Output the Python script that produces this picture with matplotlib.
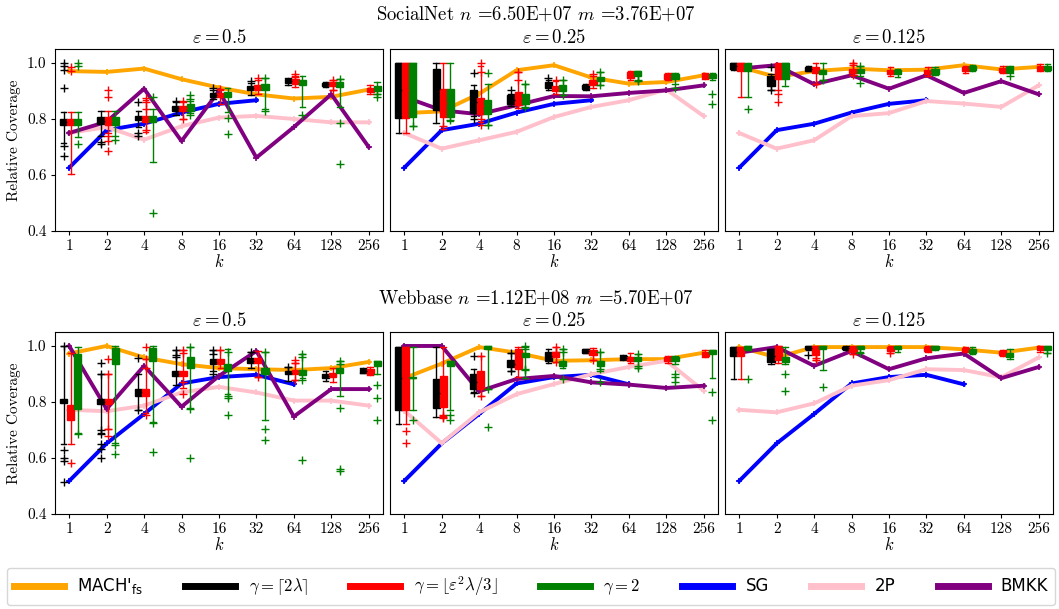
import matplotlib

matplotlib.use("Agg")
import matplotlib.pyplot as plt
from matplotlib.font_manager import FontProperties
from matplotlib.lines import Line2D

plt.rcParams["font.family"] = "serif"
plt.rcParams["font.serif"] = ["cmr10", "DejaVu Serif"]
plt.rcParams["mathtext.fontset"] = "cm"
plt.rcParams["axes.formatter.use_mathtext"] = True

K_LABELS = ["1", "2", "4", "8", "16", "32", "64", "128", "256"]
EPS_TITLES = [r"$\varepsilon = 0.5$", r"$\varepsilon = 0.25$", r"$\varepsilon = 0.125$"]
ROW_TITLES = [r"SocialNet $n$ =6.50E+07 $m$ =3.76E+07", r"Webbase $n$ =1.12E+08 $m$ =5.70E+07"]

# --- line series (one value per k) ---
SG_SOCIAL = [0.626, 0.760, 0.783, 0.823, 0.854, 0.867]
SG_WEB = [0.518, 0.652, 0.757, 0.866, 0.889, 0.897, 0.863]

MACH_SN05 = [0.971, 0.968, 0.980, 0.942, 0.912, 0.888, 0.873, 0.879, 0.905]
TWOP_SN05 = [0.750, 0.771, 0.726, 0.774, 0.805, 0.811, 0.800, 0.788, 0.788]
BMKK_SN05 = [0.750, 0.790, 0.908, 0.721, 0.900, 0.662, 0.771, 0.888, 0.700]

MACH_SN025 = [0.821, 0.827, 0.890, 0.974, 0.992, 0.948, 0.926, 0.932, 0.956]
TWOP_SN025 = [0.750, 0.694, 0.724, 0.754, 0.807, 0.843, 0.867, 0.905, 0.810]
BMKK_SN025 = [0.879, 0.831, 0.817, 0.849, 0.882, 0.881, 0.893, 0.902, 0.920]

MACH_SN0125 = [0.986, 0.950, 0.971, 0.980, 0.974, 0.976, 0.992, 0.977, 0.986]
TWOP_SN0125 = [0.750, 0.694, 0.724, 0.810, 0.821, 0.864, 0.855, 0.843, 0.920]
BMKK_SN0125 = [0.980, 0.992, 0.924, 0.956, 0.908, 0.956, 0.893, 0.935, 0.888]

MACH_WB05 = [0.973, 1.000, 0.959, 0.935, 0.921, 0.917, 0.914, 0.921, 0.943]
TWOP_WB05 = [0.772, 0.767, 0.787, 0.834, 0.854, 0.834, 0.805, 0.805, 0.787]
BMKK_WB05 = [1.000, 0.775, 0.929, 0.783, 0.893, 0.982, 0.748, 0.846, 0.846]

MACH_WB025 = [0.885, 0.937, 0.996, 0.976, 0.947, 0.949, 0.953, 0.953, 0.976]
TWOP_WB025 = [0.769, 0.653, 0.763, 0.828, 0.864, 0.899, 0.925, 0.947, 0.840]
BMKK_WB025 = [1.000, 1.000, 0.838, 0.882, 0.893, 0.870, 0.862, 0.850, 0.858]

MACH_WB0125 = [0.996, 0.959, 0.996, 0.996, 0.996, 0.996, 0.988, 0.976, 0.994]
TWOP_WB0125 = [0.772, 0.763, 0.795, 0.858, 0.878, 0.917, 0.914, 0.888, 0.959]
BMKK_WB0125 = [0.976, 0.996, 0.929, 0.982, 0.917, 0.956, 0.973, 0.885, 0.925]

# --- box stats per k: (q1, q3, whisker low, whisker high, fliers); None = no run ---
CEIL_SN05 = [
    (0.78, 0.80, 0.715, 0.825, [1.0, 0.99, 0.976, 0.91, 0.705, 0.667]),
    (0.783, 0.806, 0.74, 0.83, [0.718, 0.71]),
    (0.795, 0.812, 0.77, 0.83, [0.86, 0.75, 0.74]),
    (0.83, 0.848, 0.815, 0.86, [0.865]),
    (0.88, 0.894, 0.87, 0.905, [0.91]),
    (0.902, 0.918, 0.885, 0.93, [0.937]),
    (0.928, 0.944, 0.922, 0.948, []),
    (0.917, 0.93, 0.915, 0.932, []),
    None,
]
FLOOR_SN05 = [
    (0.78, 0.80, 0.605, 0.825, [0.985, 0.972]),
    (0.78, 0.806, 0.75, 0.83, [0.905, 0.88, 0.74, 0.72, 0.686]),
    (0.79, 0.812, 0.754, 0.867, [0.875, 0.86, 0.835, 0.76]),
    (0.83, 0.848, 0.80, 0.862, [0.865, 0.80]),
    (0.877, 0.893, 0.855, 0.905, [0.908]),
    (0.902, 0.92, 0.89, 0.94, [0.945]),
    (0.925, 0.942, 0.915, 0.955, [0.96, 0.95]),
    (0.917, 0.932, 0.905, 0.94, [0.94, 0.902]),
    (0.897, 0.912, 0.89, 0.92, []),
]
TWO_SN05 = [
    (0.78, 0.80, 0.736, 0.825, [1.0, 0.99, 0.71]),
    (0.78, 0.806, 0.74, 0.83, [0.724]),
    (0.79, 0.81, 0.646, 0.837, [0.88, 0.465]),
    (0.83, 0.852, 0.82, 0.865, [0.884, 0.873, 0.815]),
    (0.878, 0.895, 0.825, 0.91, [0.805, 0.748]),
    (0.905, 0.926, 0.837, 0.946, [0.946, 0.83]),
    (0.92, 0.94, 0.843, 0.952, [0.813]),
    (0.913, 0.932, 0.843, 0.942, [0.942, 0.786, 0.638]),
    (0.9, 0.918, 0.888, 0.932, [0.89, 0.88]),
]

CEIL_SN025 = [
    (0.805, 1.0, 0.75, 1.0, []),
    (0.833, 0.98, 0.786, 1.0, []),
    (0.821, 0.902, 0.81, 0.92, [0.965, 0.80]),
    (0.852, 0.885, 0.845, 0.89, [0.905]),
    (0.912, 0.932, 0.905, 0.94, [0.948]),
    (0.908, 0.923, 0.905, 0.925, []),
    None,
    None,
    None,
]
FLOOR_SN025 = [
    (0.805, 1.0, 0.75, 1.0, []),
    (0.807, 0.908, 0.765, 1.0, [0.775]),
    (0.817, 0.876, 0.79, 0.99, [1.0, 0.968, 0.80, 0.78]),
    (0.852, 0.896, 0.84, 0.968, [0.968, 0.94, 0.85]),
    (0.9, 0.917, 0.89, 0.935, [0.94]),
    (0.92, 0.938, 0.912, 0.955, [0.96]),
    (0.948, 0.968, 0.94, 0.973, []),
    (0.944, 0.96, 0.94, 0.965, []),
    (0.945, 0.96, 0.942, 0.965, []),
]
TWO_SN025 = [
    (0.807, 1.0, 0.774, 1.0, [0.774]),
    (0.807, 0.908, 0.793, 1.0, [0.795]),
    (0.816, 0.868, 0.78, 0.924, [0.965, 0.78]),
    (0.855, 0.89, 0.84, 0.924, [0.924, 0.842]),
    (0.9, 0.92, 0.885, 0.94, [0.94, 0.885]),
    (0.936, 0.95, 0.92, 0.968, [0.968, 0.92]),
    (0.952, 0.97, 0.935, 0.973, [0.935, 0.94]),
    (0.942, 0.96, 0.925, 0.965, [0.912]),
    (0.946, 0.96, 0.94, 0.965, [0.89, 0.852]),
]

CEIL_SN0125 = [
    (0.98, 1.0, 0.975, 1.0, []),
    (0.917, 0.952, 0.905, 0.96, [0.986, 0.905]),
    (0.971, 0.986, 0.97, 0.988, []),
    None, None, None, None, None, None,
]
FLOOR_SN0125 = [
    (0.971, 1.0, 0.88, 1.0, []),
    (0.944, 0.998, 0.905, 1.0, [0.888, 0.861]),
    (0.965, 0.986, 0.924, 1.0, [0.924]),
    (0.965, 0.98, 0.958, 1.0, [1.0, 0.992, 0.958]),
    (0.962, 0.976, 0.952, 0.985, []),
    (0.96, 0.975, 0.955, 0.985, []),
    (0.97, 0.986, 0.965, 0.99, []),
    (0.968, 0.982, 0.963, 0.988, []),
    (0.975, 0.99, 0.97, 0.995, []),
]
TWO_SN0125 = [
    (0.971, 0.998, 0.88, 1.0, [0.837]),
    (0.944, 1.0, 0.917, 1.0, []),
    (0.96, 0.976, 0.94, 1.0, [0.938]),
    (0.965, 0.98, 0.955, 0.99, [0.99, 0.93]),
    (0.96, 0.975, 0.95, 0.98, []),
    (0.962, 0.98, 0.957, 0.985, []),
    (0.975, 0.99, 0.97, 0.993, []),
    (0.968, 0.985, 0.965, 0.99, [0.955]),
    (0.975, 0.99, 0.972, 0.995, []),
]

CEIL_WB05 = [
    (0.795, 0.81, 0.65, 1.0, [1.0, 0.627, 0.60, 0.588, 0.515]),
    (0.793, 0.81, 0.69, 0.90, [0.94, 0.90, 0.70, 0.685, 0.65, 0.633, 0.60]),
    (0.822, 0.846, 0.77, 0.90, [0.958, 0.77]),
    (0.893, 0.91, 0.86, 0.985, [0.985, 0.967, 0.96]),
    (0.935, 0.953, 0.91, 0.985, [0.985, 0.973, 0.9]),
    (0.94, 0.956, 0.92, 0.98, [0.98]),
    (0.9, 0.91, 0.875, 0.925, [0.925]),
    (0.885, 0.9, 0.875, 0.91, []),
    (0.905, 0.917, 0.903, 0.92, []),
]
FLOOR_WB05 = [
    (0.734, 0.79, 0.65, 0.976, [0.582]),
    (0.793, 0.81, 0.705, 0.90, [0.955, 0.90, 0.705, 0.678]),
    (0.822, 0.846, 0.76, 0.955, [0.996, 0.955, 0.92, 0.755]),
    (0.893, 0.91, 0.85, 0.985, [0.985, 0.975, 0.87, 0.83]),
    (0.935, 0.953, 0.92, 0.985, [0.985]),
    (0.94, 0.958, 0.89, 0.983, [0.89]),
    (0.9, 0.915, 0.88, 0.94, [0.95, 0.94, 0.88]),
    (0.89, 0.905, 0.87, 0.92, []),
    (0.9, 0.917, 0.895, 0.925, []),
]
TWO_WB05 = [
    (0.775, 0.97, 0.69, 0.996, [0.684]),
    (0.935, 0.994, 0.655, 1.0, [0.648, 0.615]),
    (0.947, 0.994, 0.73, 1.0, [0.725, 0.62]),
    (0.92, 0.959, 0.78, 0.996, [0.996, 0.775, 0.6]),
    (0.91, 0.935, 0.83, 0.99, [0.98, 0.82, 0.815, 0.755]),
    (0.9, 0.92, 0.736, 0.98, [0.98, 0.704, 0.663]),
    (0.895, 0.914, 0.885, 0.97, [0.97, 0.96, 0.88, 0.594]),
    (0.905, 0.92, 0.822, 0.947, [0.947, 0.937, 0.78, 0.56, 0.552]),
    (0.929, 0.947, 0.9, 0.947, [0.86, 0.814, 0.736]),
]

CEIL_WB025 = [
    (0.772, 0.996, 0.72, 0.996, []),
    (0.779, 0.882, 0.745, 0.996, []),
    (0.846, 0.9, 0.835, 0.918, [0.964, 0.832]),
    (0.925, 0.949, 0.91, 0.976, [0.976, 0.91]),
    (0.947, 0.98, 0.94, 0.99, []),
    (0.976, 0.988, 0.975, 0.99, []),
    (0.953, 0.964, 0.95, 0.966, []),
    None,
    None,
]
FLOOR_WB025 = [
    (0.772, 0.996, 0.72, 0.996, [0.696, 0.653]),
    (0.781, 0.893, 0.75, 0.996, [0.755, 0.748, 0.742]),
    (0.846, 0.912, 0.82, 0.964, [0.964, 0.82]),
    (0.917, 0.988, 0.89, 0.996, []),
    (0.96, 0.98, 0.942, 0.996, [0.996, 0.98, 0.942]),
    (0.966, 0.984, 0.95, 0.992, [0.95]),
    (0.948, 0.962, 0.94, 0.975, []),
    (0.946, 0.96, 0.94, 0.965, []),
    (0.964, 0.98, 0.96, 0.985, []),
]
TWO_WB025 = [
    (0.884, 0.89, 0.772, 0.996, [0.734]),
    (0.929, 0.947, 0.772, 0.947, [0.755, 0.734]),
    (0.99, 1.0, 0.845, 1.0, [0.845, 0.712]),
    (0.962, 0.976, 0.887, 0.996, [1.0, 0.99, 0.917, 0.913]),
    (0.929, 0.947, 0.92, 0.99, [0.99, 0.98, 0.882]),
    (0.929, 0.947, 0.91, 0.98, [0.98, 0.918, 0.87]),
    (0.946, 0.96, 0.92, 0.972, [0.972, 0.93, 0.92]),
    (0.945, 0.96, 0.935, 0.965, [0.9, 0.888, 0.87]),
    (0.97, 0.986, 0.885, 0.986, [0.834, 0.734]),
]

CEIL_WB0125 = [
    (0.964, 0.996, 0.882, 0.996, []),
    (0.941, 0.988, 0.935, 0.99, []),
    (0.988, 1.0, 0.985, 1.0, [0.968]),
    (0.988, 0.996, 0.985, 1.0, []),
    None, None, None, None, None,
]
FLOOR_WB0125 = [
    (0.964, 0.996, 0.882, 0.996, []),
    (0.95, 1.0, 0.94, 1.0, []),
    (0.968, 1.0, 0.95, 1.0, [0.958, 0.95]),
    (0.98, 0.996, 0.97, 1.0, [0.97]),
    (0.983, 0.996, 0.975, 1.0, [0.975]),
    (0.983, 0.996, 0.98, 1.0, []),
    (0.983, 0.993, 0.978, 0.998, []),
    (0.968, 0.982, 0.963, 0.986, []),
    (0.985, 1.0, 0.98, 1.0, []),
]
TWO_WB0125 = [
    (0.988, 1.0, 0.985, 1.0, [0.882]),
    (0.941, 0.959, 0.935, 0.996, [0.9, 0.838]),
    (0.988, 1.0, 0.915, 1.0, [0.854]),
    (0.988, 1.0, 0.98, 1.0, [0.975]),
    (0.988, 1.0, 0.978, 1.0, []),
    (0.988, 1.0, 0.985, 1.0, []),
    (0.976, 0.99, 0.97, 0.998, []),
    (0.962, 0.976, 0.955, 0.988, []),
    (0.985, 1.0, 0.975, 1.0, [0.975]),
]

PANELS = [
    [
        (MACH_SN05, SG_SOCIAL, TWOP_SN05, BMKK_SN05, CEIL_SN05, FLOOR_SN05, TWO_SN05),
        (MACH_SN025, SG_SOCIAL, TWOP_SN025, BMKK_SN025, CEIL_SN025, FLOOR_SN025, TWO_SN025),
        (MACH_SN0125, SG_SOCIAL, TWOP_SN0125, BMKK_SN0125, CEIL_SN0125, FLOOR_SN0125, TWO_SN0125),
    ],
    [
        (MACH_WB05, SG_WEB, TWOP_WB05, BMKK_WB05, CEIL_WB05, FLOOR_WB05, TWO_WB05),
        (MACH_WB025, SG_WEB, TWOP_WB025, BMKK_WB025, CEIL_WB025, FLOOR_WB025, TWO_WB025),
        (MACH_WB0125, SG_WEB, TWOP_WB0125, BMKK_WB0125, CEIL_WB0125, FLOOR_WB0125, TWO_WB0125),
    ],
]

LINE_COLORS = ["orange", "blue", "pink", "purple"]
BOX_COLORS = ["black", "red", "green"]
BOX_OFFSETS = [-0.15, 0.04, 0.23]
BOX_WIDTH = 0.19


def draw_boxes(ax, entries, offset, color):
    stats, pos = [], []
    for i, e in enumerate(entries):
        if e is None:
            continue
        q1, q3, lo, hi, fl = e
        stats.append(dict(med=(q1 + q3) / 2, q1=q1, q3=q3, whislo=lo, whishi=hi, fliers=fl))
        pos.append(i + offset)
    ax.bxp(
        stats,
        positions=pos,
        widths=BOX_WIDTH,
        capwidths=BOX_WIDTH * 0.8,
        patch_artist=True,
        manage_ticks=False,
        boxprops=dict(facecolor=color, edgecolor=color, linewidth=1),
        whiskerprops=dict(color=color, linewidth=1),
        capprops=dict(color=color, linewidth=1),
        medianprops=dict(color=color, linewidth=1),
        flierprops=dict(marker="+", markeredgecolor=color, markersize=6, markeredgewidth=1, linestyle="none"),
        zorder=3,
    )


fig = plt.figure(figsize=(10.59, 6.09), dpi=100)
lefts = [0.0519, 0.3683, 0.6846]
bottoms = [0.6207, 0.156]
for r, row in enumerate(PANELS):
    for c, panel in enumerate(row):
        ax = fig.add_axes([lefts[c], bottoms[r], 0.3097, 0.2989])
        for series, color in zip(panel[:4], LINE_COLORS):
            ax.plot(range(len(series)), series, color=color, lw=2.8, marker="+", ms=5, mew=1.2, zorder=2)
        for entries, off, color in zip(panel[4:], BOX_OFFSETS, BOX_COLORS):
            draw_boxes(ax, entries, off, color)
        ax.set_xlim(-0.38, 8.38)
        ax.set_ylim(0.4, 1.05)
        ax.set_xticks(range(len(K_LABELS)))
        ax.set_xticklabels(K_LABELS)
        ax.set_yticks([0.4, 0.6, 0.8, 1.0])
        ax.tick_params(labelsize=11, length=3, pad=3)
        ax.set_xlabel(r"$k$", fontsize=12, labelpad=0)
        ax.set_title(EPS_TITLES[c], fontsize=13.5, pad=4)
        if c == 0:
            ax.set_yticklabels(["0.4", "0.6", "0.8", "1.0"])
            ax.set_ylabel("Relative Coverage", fontsize=11, labelpad=4)
        else:
            ax.set_yticklabels([])
            ax.tick_params(axis="y", length=0)

fig.text(0.506, 0.977, ROW_TITLES[0], ha="center", va="center", fontsize=13.5)
fig.text(0.506, 0.511, ROW_TITLES[1], ha="center", va="center", fontsize=13.5)

legend_labels = [
    r"MACH$'_{\mathrm{fs}}$",
    r"$\gamma = \lceil 2\lambda \rceil$",
    r"$\gamma = \lfloor \varepsilon^2\lambda/3 \rfloor$",
    r"$\gamma = 2$",
    "SG",
    "2P",
    "BMKK",
]
legend_colors = ["orange", "black", "red", "green", "blue", "pink", "purple"]
handles = [Line2D([], [], color=col, lw=5) for col in legend_colors]
leg = fig.legend(
    handles,
    legend_labels,
    loc="lower left",
    bbox_to_anchor=(7 / 1059, 4 / 609, 1048 / 1059, 38 / 609),
    mode="expand",
    ncol=7,
    prop=FontProperties(family="DejaVu Sans", size=12, math_fontfamily="cm"),
    handlelength=3.0,
    handletextpad=0.8,
    borderaxespad=0,
    frameon=True,
)
leg.get_texts()[0].set_math_fontfamily("dejavusans")

fig.savefig("out.png", dpi=100)
